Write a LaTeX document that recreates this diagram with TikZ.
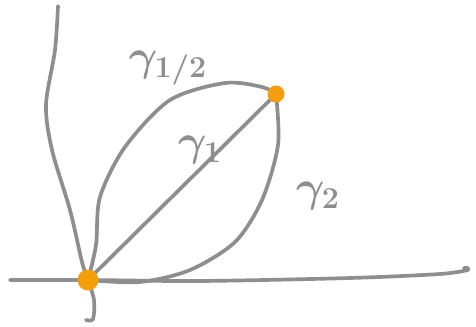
\documentclass[tikz,border=0pt]{standalone}
\usepackage{amsmath}
\definecolor{penGray}{HTML}{8E8E8E}
\definecolor{penOrange}{HTML}{F59E0B}
\begin{document}
\begin{tikzpicture}[x=0.02cm,y=-0.02cm,
  stroke/.style={draw=penGray,line width=2.1pt,line cap=round,line join=round},
  dot/.style={circle,fill=penOrange,inner sep=0pt,minimum size=#1},
  lbl/.style={text=penGray,font=\fontsize{26}{28}\selectfont\boldmath}]
\useasboundingbox (0,0) rectangle (476,327);
\coordinate (O) at (88,280);
\coordinate (P) at (276,94);
% axes
\draw[stroke] plot[smooth] coordinates {(58,6) (55,50) (46,105) (52,150) (70,210) (82,262) (O) (94,300) (93,319) (86,320)};
\draw[stroke] plot[smooth] coordinates {(10,280) (O) (200,281) (350,278) (440,274) (468,270)} -- (468,268) -- (464,268);
% paths
\draw[stroke] plot[smooth] coordinates {(O) (96,245) (100,197) (125,147) (170,100) (225,83) (262,87) (P)};
\draw[stroke] (O) -- (P);
\draw[stroke] plot[smooth] coordinates {(O) (140,282) (190,270) (235,242) (262,200) (278,145) (P)};
\node[dot=0.42cm] (o) at (O) {};
\node[dot=0.34cm] (p) at (P) {};
\node[lbl] (g12) at (168,68) {$\gamma_{1/2}$};
\node[lbl] (g1) at (200,150) {$\gamma_1$};
\node[lbl] (g2) at (318,196) {$\gamma_2$};
\end{tikzpicture}
\end{document}
